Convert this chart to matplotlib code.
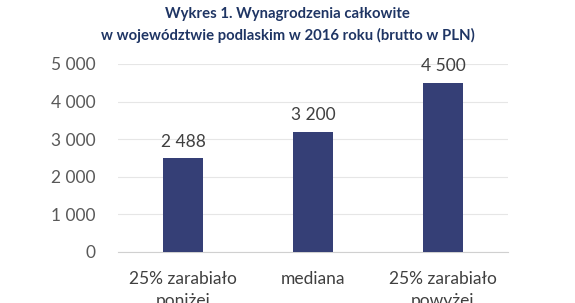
import matplotlib
matplotlib.use("Agg")
import matplotlib.pyplot as plt

categories = ["25% zarabiało\nponiżej", "mediana", "25% zarabiało\npowyżej"]
values = [2488, 3200, 4500]
value_labels = ["2 488", "3 200", "4 500"]
yticks = [0, 1000, 2000, 3000, 4000, 5000]
ytick_labels = ["0", "1 000", "2 000", "3 000", "4 000", "5 000"]
title = "Wykres 1. Wynagrodzenia całkowite\nw województwie podlaskim w 2016 roku (brutto w PLN)"

plt.rcParams['font.family'] = ['Lato', 'DejaVu Sans']

fig = plt.figure(figsize=(5.75, 3.03), dpi=100)
ax = fig.add_axes([118/575, 1 - 252/303, 390/575, 188/303])

x = range(len(categories))
ax.bar(x, values, width=0.31, color="#353F76", zorder=3)
for xi, v, lab in zip(x, values, value_labels):
    ax.text(xi, v + 230, lab, ha="center", va="bottom", fontsize=12.5, color="#404040")

ax.set_xlim(-0.5, 2.5)
ax.set_ylim(0, 5000)
ax.set_yticks(yticks)
ax.set_yticklabels(ytick_labels, fontsize=12.5, color="#595959")
ax.set_xticks(list(x))
ax.set_xticklabels(categories, fontsize=12.5, color="#404040", linespacing=1.45)
ax.tick_params(axis="both", length=0)
ax.tick_params(axis="y", pad=16)
ax.tick_params(axis="x", pad=14)
ax.grid(axis="y", color="#E6E6E6", linewidth=0.8, zorder=0)
for s in ["top", "right", "left"]:
    ax.spines[s].set_visible(False)
ax.spines["bottom"].set_color("#D0D0D0")

fig.text(0.5, 1 - 25/303, title, ha="center", va="center", fontsize=10.7,
         fontweight="bold", color="#1F3564", linespacing=1.55)

fig.savefig("out.png", dpi=100)
